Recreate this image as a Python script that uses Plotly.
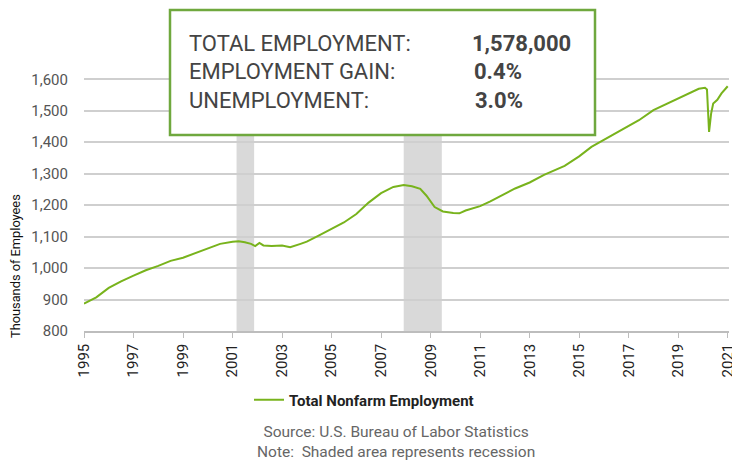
import plotly.graph_objects as go

dates = ["1995-01", "1995-07", "1996-01", "1996-07", "1997-01", "1997-07", "1998-01", "1998-07",
         "1999-01", "1999-07", "2000-01", "2000-07", "2001-01", "2001-04", "2001-07", "2001-10",
         "2001-12", "2002-02", "2002-04", "2002-08", "2003-01", "2003-05", "2003-10", "2004-01",
         "2004-07", "2005-01", "2005-07", "2006-01", "2006-07", "2007-01", "2007-07", "2007-12",
         "2008-04", "2008-08", "2008-11", "2009-03", "2009-07", "2009-12", "2010-03", "2010-06",
         "2010-09", "2011-01", "2011-06", "2012-01", "2012-06", "2013-01", "2013-08", "2014-06",
         "2015-01", "2015-07", "2016-01", "2016-09", "2017-06", "2018-01", "2018-10", "2019-06",
         "2019-11", "2020-02", "2020-03", "2020-04", "2020-05", "2020-06", "2020-08", "2020-10",
         "2020-12", "2021-01"]
employment = [887, 907, 937, 958, 976, 993, 1007, 1023,
              1033, 1047, 1062, 1077, 1084, 1085, 1082, 1077,
              1070, 1080, 1072, 1070, 1072, 1066, 1077, 1084,
              1104, 1125, 1145, 1172, 1208, 1238, 1258, 1264,
              1260, 1252, 1230, 1194, 1180, 1175, 1174, 1183,
              1190, 1197, 1212, 1235, 1253, 1272, 1296, 1325,
              1355, 1385, 1408, 1438, 1470, 1502, 1530, 1556,
              1570, 1573, 1568, 1433, 1491, 1523, 1535, 1555,
              1570, 1578]

recession_starts = ["2001-03-01", "2007-12-01"]
recession_ends = ["2001-11-15", "2009-06-15"]

box_labels = ["TOTAL EMPLOYMENT:", "EMPLOYMENT GAIN:", "UNEMPLOYMENT:"]
box_values = ["1,578,000", "0.4%", "3.0%"]

GREEN_LINE = "#78b31c"
GREEN_BOX = "#6fa83e"
FONT = "Roboto"

fig = go.Figure()
fig.add_trace(go.Scatter(x=dates, y=employment, mode="lines",
                         name="<b>Total Nonfarm Employment</b>",
                         line=dict(color=GREEN_LINE, width=2)))

for s, e in zip(recession_starts, recession_ends):
    fig.add_shape(type="rect", xref="x", yref="paper", x0=s, x1=e, y0=0, y1=1,
                  fillcolor="#d9d9d9", line=dict(width=0), layer="below")

px_x = lambda p: (p - 84) / 645
px_y = lambda p: (331 - p) / 280

# info box
fig.add_shape(type="rect", xref="paper", yref="paper", x0=px_x(170), x1=px_x(595),
              y0=px_y(135), y1=px_y(10), fillcolor="white",
              line=dict(color=GREEN_BOX, width=2.5), layer="above")
for i, (lab, val) in enumerate(zip(box_labels, box_values)):
    ypx = [43, 72, 100][i]
    fig.add_annotation(xref="paper", yref="paper", x=px_x(187), y=px_y(ypx),
                       text=lab, showarrow=False, xanchor="left", yanchor="middle",
                       font=dict(family=FONT, size=22, color="#444444"))
    fig.add_annotation(xref="paper", yref="paper", x=px_x([470, 472, 473][i]), y=px_y(ypx),
                       text="<b>" + val + "</b>", showarrow=False, xanchor="left", yanchor="middle",
                       font=dict(family=FONT, size=22, color="#444444"))

fig.add_annotation(xref="paper", yref="paper", x=px_x(15), y=px_y(266),
                   text="Thousands of Employees", textangle=-90, showarrow=False,
                   xanchor="center", yanchor="middle",
                   font=dict(family=FONT, size=12.8, color="#111111"))

fig.add_annotation(xref="paper", yref="paper", x=px_x(396), y=px_y(442),
                   text="Source: U.S. Bureau of Labor Statistics<br>Note:  Shaded area represents recession",
                   showarrow=False, xanchor="center", yanchor="middle", align="center",
                   font=dict(family=FONT, size=15.5, color="#666666"))

fig.update_layout(
    width=732, height=463,
    margin=dict(l=84, r=3, t=51, b=132, autoexpand=False),
    plot_bgcolor="white", paper_bgcolor="white",
    font=dict(family=FONT),
    showlegend=True,
    legend=dict(orientation="h", x=px_x(364), xanchor="center", y=px_y(400), yanchor="middle",
                font=dict(family=FONT, size=15, color="#222222"), itemwidth=30),
    xaxis=dict(type="date", range=["1995-01-01", "2021-01-20"], tick0="1995-01-01", dtick="M24",
               tickformat="%Y", tickangle=-90, showgrid=False, showline=True,
               linecolor="#bdbdbd", linewidth=1.5, ticks="outside", ticklen=5, tickcolor="#bdbdbd",
               ticklabeloverflow="allow",
               tickfont=dict(family=FONT, size=15, color="#222222")),
    yaxis=dict(range=[800, 1690], dtick=100, tickformat=",d", showgrid=True,
               gridcolor="#cfcfcf", gridwidth=1.5, zeroline=False,
               ticks="outside", ticklen=12, tickcolor="rgba(0,0,0,0)",
               tickfont=dict(family=FONT, size=15, color="#555555")),
)

fig.write_html("out.html", config={"displayModeBar": False},
               post_script="document.body.style.margin='0';")
